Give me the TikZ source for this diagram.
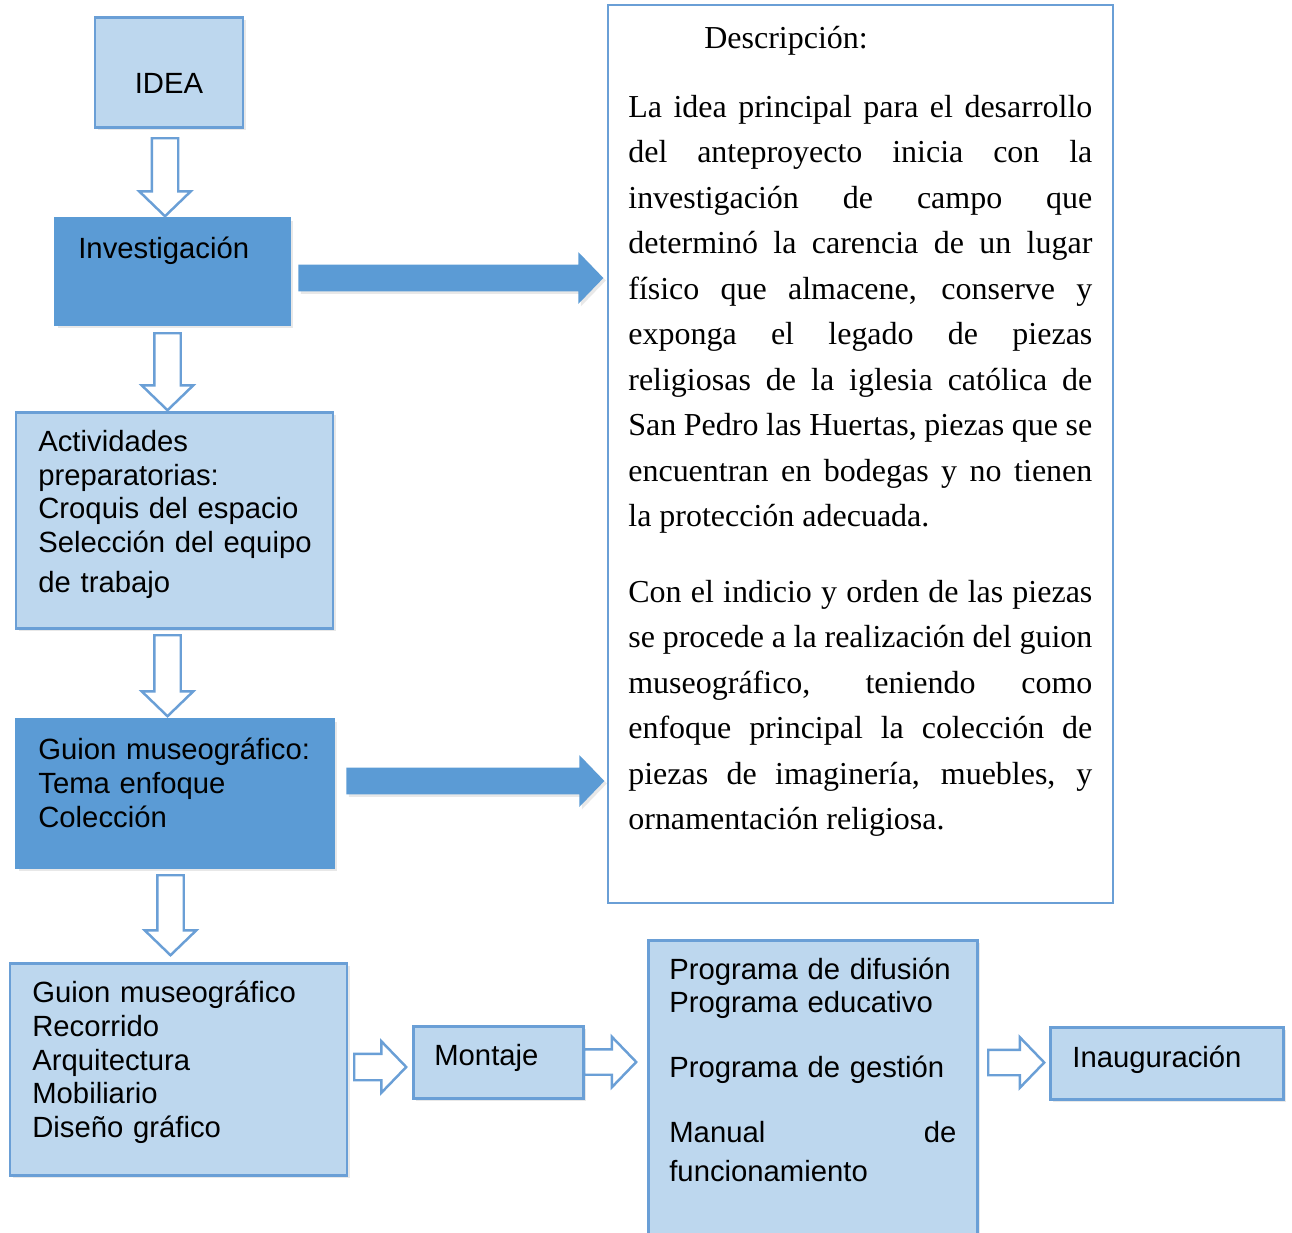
\documentclass[tikz,border=0pt]{standalone}
\usepackage{fontspec}
\newfontfamily\boxfont{Liberation Sans}
\newfontfamily\dscfont{Liberation Serif}
\usetikzlibrary{shapes.arrows,shadows,positioning}
\definecolor{lightfill}{HTML}{BDD7EE}
\definecolor{darkfill}{HTML}{5B9BD5}
\definecolor{edgeblue}{HTML}{6A9FD6}
\tikzset{
    lbox/.style={rectangle, draw=edgeblue, line width=1.7pt, fill=lightfill,
        drop shadow={opacity=0.18, shadow xshift=0.05cm, shadow yshift=-0.05cm}},
    dbox/.style={rectangle, draw=darkfill, line width=1pt, fill=darkfill,
        drop shadow={opacity=0.18, shadow xshift=0.05cm, shadow yshift=-0.05cm}},
    dscbox/.style={rectangle, draw=edgeblue, line width=1.1pt, fill=white},
    btxt/.style={anchor=base west, inner sep=0pt, text width=#1, align=left,
        font=\boxfont\fontsize{16.65}{19.2}\selectfont},
    btxt/.default=6cm,
    dtxt/.style={anchor=base west, inner sep=0pt, text width=9.28cm, align=justify,
        font=\dscfont\fontsize{18.2}{25.9}\selectfont},
    harrow/.style={single arrow, anchor=tail, draw=edgeblue, line width=1.4pt, fill=white,
        inner xsep=0pt, inner ysep=0.24cm, single arrow head extend=0.25cm,
        single arrow tip angle=92},
    sarrow/.style={single arrow, anchor=tail, draw=none, fill=darkfill,
        inner xsep=0pt, inner ysep=0.26cm, single arrow head extend=0.25cm,
        single arrow tip angle=92,
        drop shadow={opacity=0.18, shadow xshift=0.05cm, shadow yshift=-0.05cm}}
}

\begin{document}
\begin{tikzpicture}
    \useasboundingbox (0,0) rectangle (25.84,-24.64);

    % boxes
    \node[lbox, minimum width=2.96cm, minimum height=2.20cm] (idea) at (3.38,-1.44) {};
    \node[dbox, minimum width=4.70cm, minimum height=2.14cm] (inv) at (3.45,-5.43) {};
    \node[lbox, minimum width=6.34cm, minimum height=4.32cm] (act) at (3.49,-10.40) {};
    \node[dbox, minimum width=6.36cm, minimum height=2.98cm] (guion) at (3.50,-15.87) {};
    \node[lbox, minimum width=6.74cm, minimum height=4.24cm] (guion2) at (3.57,-21.38) {};
    \node[lbox, minimum width=3.40cm, minimum height=1.44cm] (mont) at (9.96,-21.24) {};
    \node[lbox, minimum width=6.58cm, minimum height=6.20cm] (prog) at (16.25,-21.90) {};
    \node[lbox, minimum width=4.66cm, minimum height=1.44cm] (inau) at (23.33,-21.26) {};
    \node[dscbox, minimum width=10.10cm, minimum height=17.96cm] (desc) at (17.21,-9.08) {};

    % box texts
    \node[btxt=2.5cm, anchor=base, align=center] (ideatxt) at (3.38,-1.87) {IDEA};
    \node[btxt=4.2cm] (invtxt) at (1.56,-5.17) {Investigación};
    \node[btxt] (acttxt) at (0.76,-9.03) {Actividades\\ preparatorias:\\ Croquis del espacio\\ Selección del equipo\\[3.6pt] de trabajo};
    \node[btxt] (guiontxt) at (0.76,-15.19) {Guion museográfico:\\ Tema enfoque\\ Colección};
    \node[btxt] (guion2txt) at (0.64,-20.05) {Guion museográfico\\ Recorrido\\ Arquitectura\\ Mobiliario\\ Diseño gráfico};
    \node[btxt=3cm] (monttxt) at (8.68,-21.30) {Montaje};
    \node[btxt=5.74cm] (progtxt) at (13.38,-19.58) {Programa de difusión\\ Programa educativo\\[17.8pt] Programa de gestión\\[17.8pt] Manual\hspace{0pt plus 1filll}de\\[3pt] funcionamiento};
    \node[btxt=4.3cm] (inautxt) at (21.44,-21.34) {Inauguración};

    % description
    \node[dtxt, text width=6cm] (dsctitle) at (14.08,-0.96) {Descripción:};
    \node[dtxt] (dscone) at (12.56,-2.34) {\tolerance=10000\hyphenpenalty=10000
        La idea principal para el desarrollo\linebreak
        del anteproyecto inicia con la\linebreak
        investigación de campo que\linebreak
        determinó la carencia de un lugar\linebreak
        físico que almacene, conserve y\linebreak
        exponga el legado de piezas\linebreak
        religiosas de la iglesia católica de\linebreak
        San Pedro las Huertas, piezas que se\linebreak
        encuentran en bodegas y no tienen\linebreak
        la protección adecuada.};
    \node[dtxt] (dsctwo) at (12.56,-12.04) {\tolerance=10000\hyphenpenalty=10000
        Con el indicio y orden de las piezas\linebreak
        se procede a la realización del guion\linebreak
        museográfico, teniendo como\linebreak
        enfoque principal la colección de\linebreak
        piezas de imaginería, muebles, y\linebreak
        ornamentación religiosa.};

    % arrows (placed by their tails)
    \node[harrow, rotate=-90, minimum height=1.56cm] (a1) at (3.30,-2.74) {};
    \node[harrow, rotate=-90, minimum height=1.54cm] (a2) at (3.35,-6.64) {};
    \node[harrow, rotate=-90, minimum height=1.62cm] (a3) at (3.35,-12.68) {};
    \node[harrow, rotate=-90, minimum height=1.60cm] (a4) at (3.41,-17.48) {};
    \node[sarrow, minimum height=6.10cm] (s1) at (5.96,-5.56) {};
    \node[sarrow, minimum height=5.16cm] (s2) at (6.92,-15.62) {};
    \node[harrow, minimum height=1.04cm] (h1) at (7.06,-21.34) {};
    \node[harrow, minimum height=1.04cm, inner ysep=0.23cm] (h2) at (11.66,-21.24) {};
    \node[harrow, minimum height=1.12cm, inner ysep=0.23cm] (h3) at (19.74,-21.25) {};
\end{tikzpicture}
\end{document}
